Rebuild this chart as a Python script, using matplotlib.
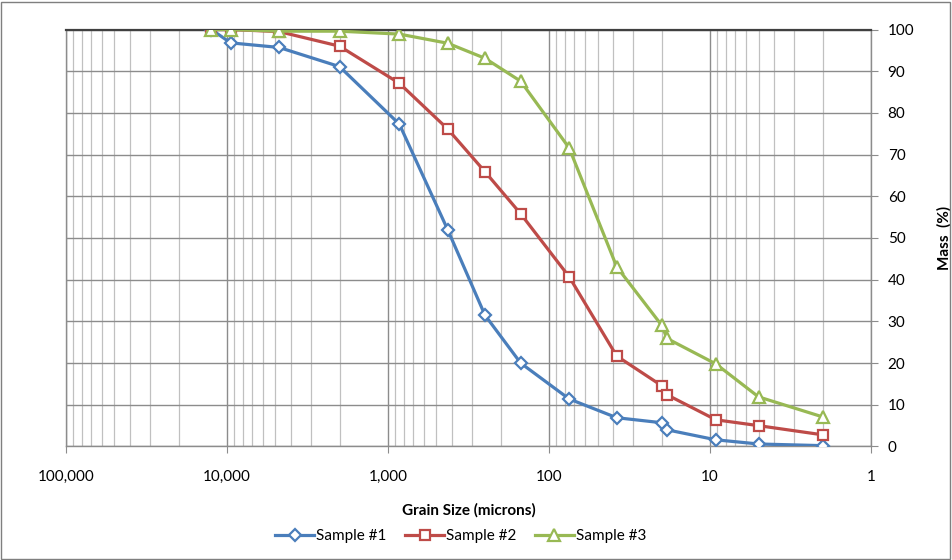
import numpy as np
import matplotlib.pyplot as plt
from matplotlib.ticker import FixedLocator, FuncFormatter, NullFormatter

plt.rcParams['font.family'] = ['Lato', 'DejaVu Sans']

# grain sizes (microns)
sizes = [12500, 9500, 4750, 2000, 850, 425, 250, 150, 75, 38, 20, 18.5, 9.2, 5.0, 2.0]
sample1 = [100, 96.8, 95.7, 91.1, 77.3, 51.9, 31.5, 20.0, 11.4, 6.9, 5.7, 4.0, 1.6, 0.6, 0.2]
sample2 = [100, 100, 99.5, 96.0, 87.1, 76.1, 65.9, 55.8, 40.7, 21.7, 14.6, 12.4, 6.4, 5.0, 2.8]
sample3 = [100, 100, 99.6, 99.6, 98.9, 96.7, 93.1, 87.6, 71.6, 43.1, 29.1, 25.9, 19.8, 11.9, 7.1]
labels = ['Sample #1', 'Sample #2', 'Sample #3']
x_ticks = [100000, 10000, 1000, 100, 10, 1]
y_ticks = list(range(0, 101, 10))

colors = ['#4A7EBB', '#BE4B48', '#98B954']
markers = ['D', 's', '^']
msizes = [6.5, 7.5, 8]

fig = plt.figure(figsize=(9.52, 5.6), dpi=100)
ax = fig.add_axes([0.0693, 0.2027, 0.8457, 0.7446])

for ys, c, m, ms, lab in zip([sample1, sample2, sample3], colors, markers, msizes, labels):
    ax.plot(sizes, ys, color=c, lw=2.3, marker=m, ms=ms, mfc='white',
            mec=c, mew=1.6, label=lab, zorder=3)

ax.set_xscale('log')
ax.set_xlim(100000, 1)
ax.set_ylim(0, 100)

ax.xaxis.set_major_locator(FixedLocator(x_ticks))
ax.xaxis.set_major_formatter(FuncFormatter(lambda v, p: '{:,}'.format(int(round(v)))))
minors = [k * 10 ** e for e in range(0, 5) for k in range(2, 10)]
ax.xaxis.set_minor_locator(FixedLocator(minors))
ax.xaxis.set_minor_formatter(NullFormatter())

ax.yaxis.tick_right()
ax.yaxis.set_label_position('right')
ax.set_yticks(y_ticks)

ax.grid(which='major', axis='x', color='#8c8c8c', lw=1.0, zorder=1)
ax.grid(which='minor', axis='x', color='#c0c0c0', lw=0.9, zorder=1)
ax.grid(which='major', axis='y', color='#8c8c8c', lw=1.0, zorder=1)

ax.tick_params(axis='x', which='major', length=5, color='#8c8c8c', labelsize=11, pad=12)
ax.tick_params(axis='x', which='minor', length=0)
ax.tick_params(axis='y', length=5, color='#8c8c8c', labelsize=11, pad=7)

for s in ['left', 'right', 'bottom']:
    ax.spines[s].set_color('#8c8c8c')
    ax.spines[s].set_linewidth(1.0)
ax.spines['top'].set_color('#404040')
ax.spines['top'].set_linewidth(1.6)

ax.set_xlabel('Grain Size (microns)', fontsize=11, fontweight='bold', labelpad=14)
ax.set_ylabel('Mass  (%)', fontsize=11, fontweight='bold', labelpad=16)

ax.legend(loc='upper center', bbox_to_anchor=(0.49, -0.165), ncol=3, frameon=False,
          fontsize=11, handlelength=2.6, handletextpad=0.1, columnspacing=1.2)

# chart area border
fig.patches.append(plt.Rectangle((0.001, 0.002), 0.997, 0.995, transform=fig.transFigure,
                                 fill=False, edgecolor='#7f7f7f', lw=1.0))

fig.savefig('out.png', dpi=100)
